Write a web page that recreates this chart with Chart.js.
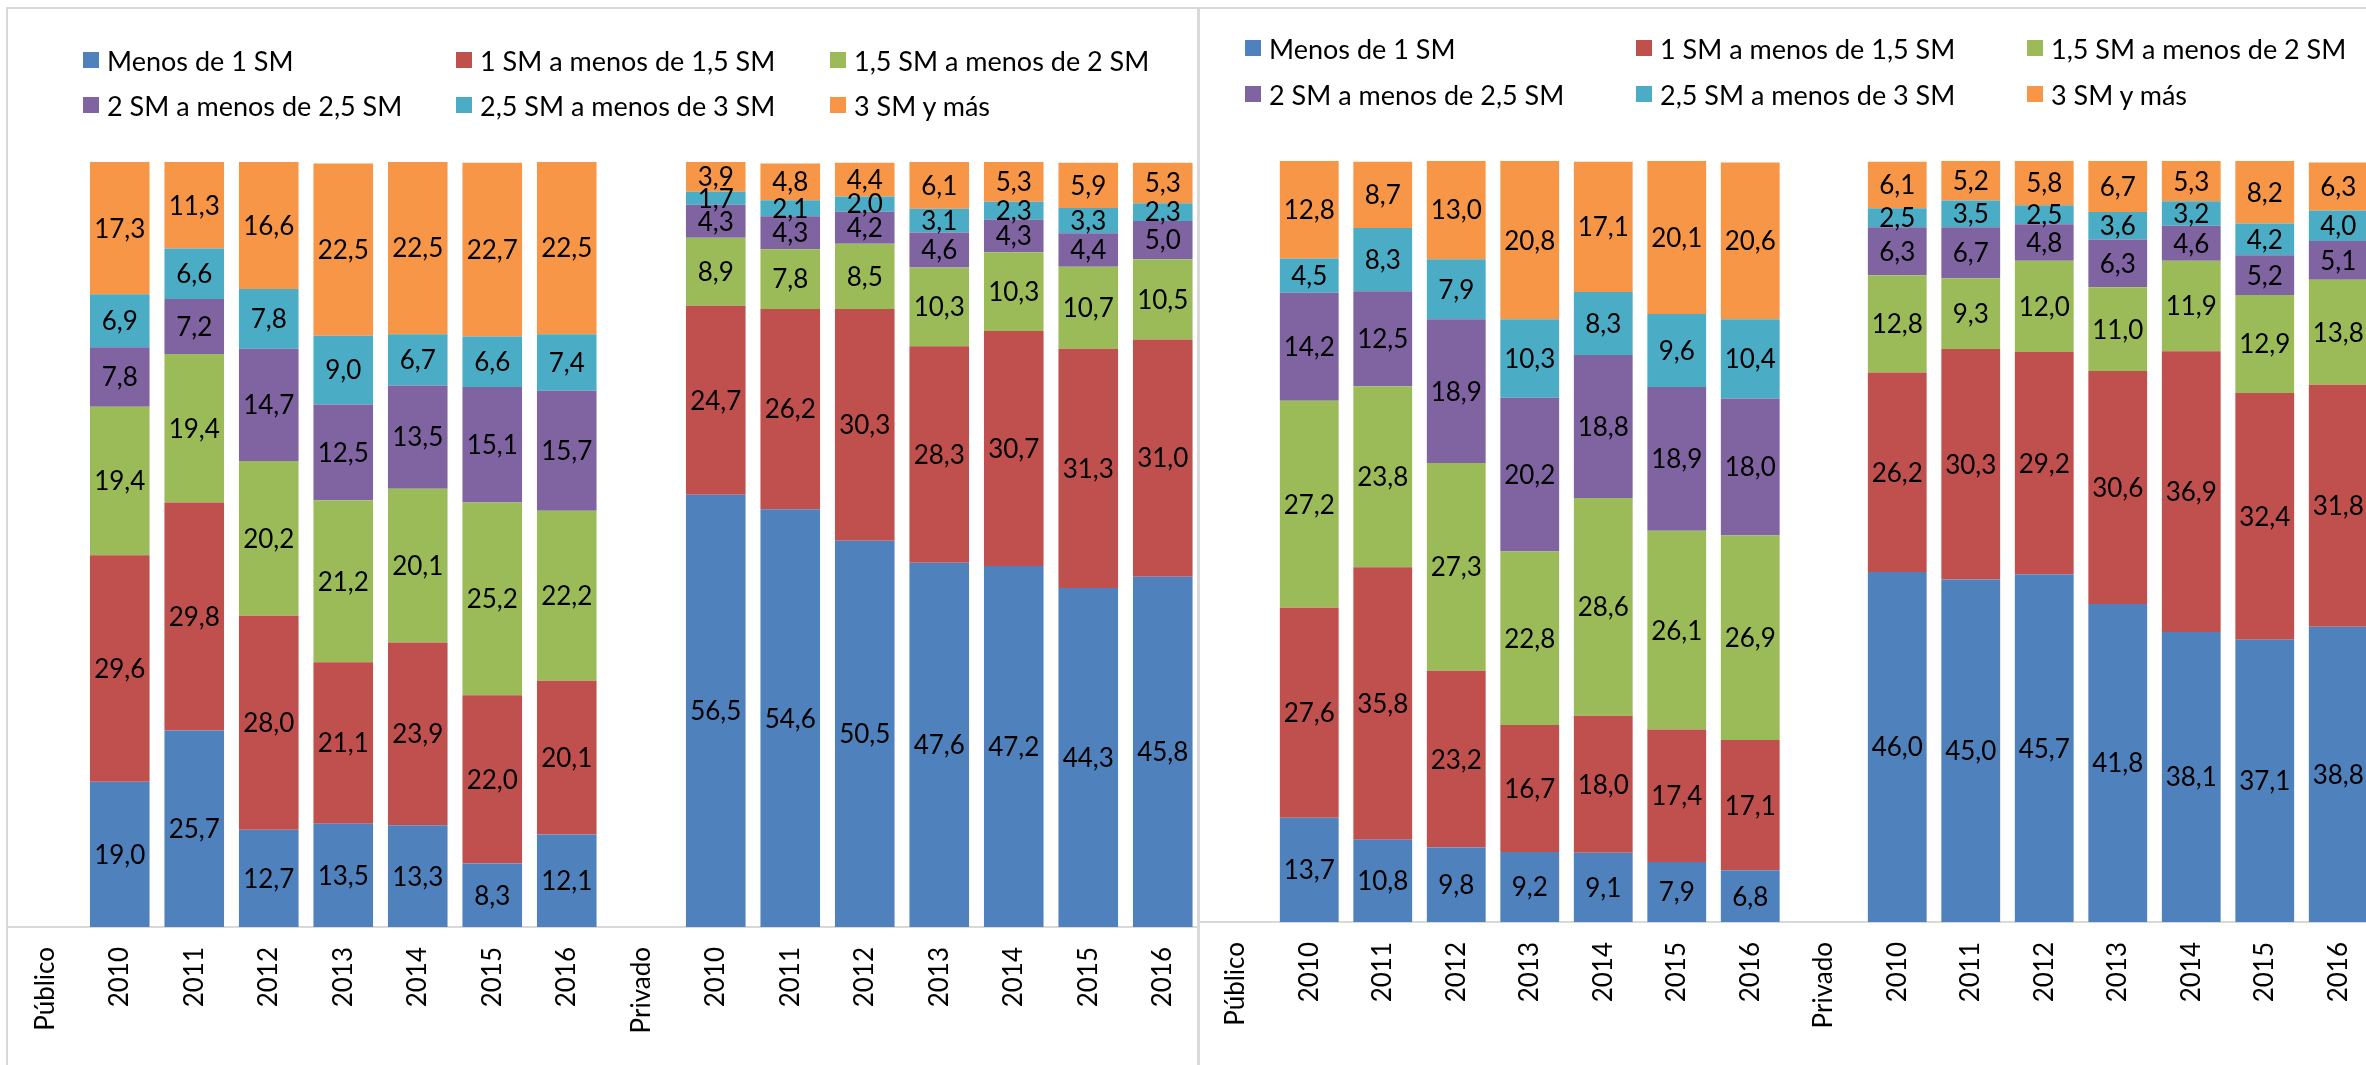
<!DOCTYPE html>
<html lang="es">
<head>
    <meta charset="UTF-8">
    <title>Distribución por tramos de SM</title>
    <script src="https://cdn.jsdelivr.net/npm/chart.js@4.4.1/dist/chart.umd.min.js"></script>
    <style>
        html, body {
            margin: 0;
            padding: 0;
            background: #fff;
            overflow: hidden;
        }
        #page {
            position: relative;
            width: 2366px;
            height: 1065px;
            overflow: hidden;
            font-family: 'Lato', sans-serif;
        }
        .panel {
            position: absolute;
            border: 2px solid #d9d9d9;
            box-sizing: border-box;
        }
        canvas {
            position: absolute;
            top: 0;
        }
        .legend-item {
            position: absolute;
            display: flex;
            align-items: center;
            font-size: 27px;
            color: #000;
            white-space: nowrap;
            height: 32px;
        }
        .legend-item span.box {
            display: inline-block;
            width: 16px;
            height: 16px;
            margin-right: 8px;
        }
    </style>
</head>
<body>
<div id="page">
    <div class="panel" style="left:6px; top:7px; width:1194px; height:1100px;"></div>
    <div class="panel" style="left:1197px; top:7px; width:1300px; height:1100px;"></div>
    <canvas id="chartA" width="1192" height="1065" style="left:8px;"></canvas>
    <canvas id="chartB" width="1176" height="1065" style="left:1199px;"></canvas>
    <div id="legendA"></div>
    <div id="legendB"></div>
</div>

<script>
    // categorias del eje
    var categories = ['Público', '2010', '2011', '2012', '2013', '2014', '2015', '2016',
                      'Privado', '2010', '2011', '2012', '2013', '2014', '2015', '2016'];

    var seriesNames = ['Menos de 1 SM', '1 SM a menos de 1,5 SM', '1,5 SM a menos de 2 SM',
                       '2 SM a menos de 2,5 SM', '2,5 SM a menos de 3 SM', '3 SM y más'];
    var seriesColors = ['#4F81BD', '#C0504D', '#9BBB59', '#8064A2', '#4BACC6', '#F79646'];

    // grafico izquierdo
    var leftMenos1  = [null, 19.0, 25.7, 12.7, 13.5, 13.3, 8.3, 12.1, null, 56.5, 54.6, 50.5, 47.6, 47.2, 44.3, 45.8];
    var left1a15    = [null, 29.6, 29.8, 28.0, 21.1, 23.9, 22.0, 20.1, null, 24.7, 26.2, 30.3, 28.3, 30.7, 31.3, 31.0];
    var left15a2    = [null, 19.4, 19.4, 20.2, 21.2, 20.1, 25.2, 22.2, null, 8.9, 7.8, 8.5, 10.3, 10.3, 10.7, 10.5];
    var left2a25    = [null, 7.8, 7.2, 14.7, 12.5, 13.5, 15.1, 15.7, null, 4.3, 4.3, 4.2, 4.6, 4.3, 4.4, 5.0];
    var left25a3    = [null, 6.9, 6.6, 7.8, 9.0, 6.7, 6.6, 7.4, null, 1.7, 2.1, 2.0, 3.1, 2.3, 3.3, 2.3];
    var left3mas    = [null, 17.3, 11.3, 16.6, 22.5, 22.5, 22.7, 22.5, null, 3.9, 4.8, 4.4, 6.1, 5.3, 5.9, 5.3];

    // grafico derecho
    var rightMenos1 = [null, 13.7, 10.8, 9.8, 9.2, 9.1, 7.9, 6.8, null, 46.0, 45.0, 45.7, 41.8, 38.1, 37.1, 38.8];
    var right1a15   = [null, 27.6, 35.8, 23.2, 16.7, 18.0, 17.4, 17.1, null, 26.2, 30.3, 29.2, 30.6, 36.9, 32.4, 31.8];
    var right15a2   = [null, 27.2, 23.8, 27.3, 22.8, 28.6, 26.1, 26.9, null, 12.8, 9.3, 12.0, 11.0, 11.9, 12.9, 13.8];
    var right2a25   = [null, 14.2, 12.5, 18.9, 20.2, 18.8, 18.9, 18.0, null, 6.3, 6.7, 4.8, 6.3, 4.6, 5.2, 5.1];
    var right25a3   = [null, 4.5, 8.3, 7.9, 10.3, 8.3, 9.6, 10.4, null, 2.5, 3.5, 2.5, 3.6, 3.2, 4.2, 4.0];
    var right3mas   = [null, 12.8, 8.7, 13.0, 20.8, 17.1, 20.1, 20.6, null, 6.1, 5.2, 5.8, 6.7, 5.3, 8.2, 6.3];

    var FONT = 'Lato';

    // etiquetas de valor centradas en cada segmento
    var valueLabels = {
        id: 'valueLabels',
        afterDatasetsDraw: function(chart) {
            var ctx = chart.ctx;
            ctx.save();
            ctx.font = '26px ' + FONT;
            ctx.fillStyle = '#000';
            ctx.textAlign = 'center';
            ctx.textBaseline = 'middle';
            chart.data.datasets.forEach(function(ds, i) {
                var meta = chart.getDatasetMeta(i);
                meta.data.forEach(function(bar, j) {
                    var v = ds.data[j];
                    if (v === null) return;
                    var txt = v.toFixed(1).replace('.', ',');
                    ctx.fillText(txt, bar.x, (bar.y + bar.base) / 2 + 1);
                });
            });
            ctx.restore();
        }
    };

    function makeChart(id, values, padTop, axisHeight) {
        var datasets = seriesNames.map(function(name, i) {
            return {
                label: name,
                data: values[i],
                backgroundColor: seriesColors[i],
                barPercentage: 0.8,
                categoryPercentage: 1.0
            };
        });
        return new Chart(document.getElementById(id), {
            type: 'bar',
            data: { labels: categories, datasets: datasets },
            options: {
                responsive: false,
                animation: false,
                layout: { padding: { top: padTop, left: 0, right: 0, bottom: 0 } },
                plugins: {
                    legend: { display: false },
                    tooltip: { enabled: false }
                },
                scales: {
                    x: {
                        stacked: true,
                        // marcas invisibles: dejan el hueco entre eje y etiquetas
                        grid: { display: true, drawOnChartArea: false, drawTicks: true, tickLength: 17, color: 'transparent' },
                        border: { display: true, color: '#d9d9d9', width: 2 },
                        ticks: {
                            autoSkip: false,
                            minRotation: 90,
                            maxRotation: 90,
                            padding: 3,
                            color: '#000',
                            font: { family: FONT, size: 26 }
                        },
                        afterFit: function(scale) { scale.height = axisHeight; }
                    },
                    y: {
                        stacked: true,
                        display: false,
                        min: 0,
                        max: 100
                    }
                }
            },
            plugins: [valueLabels]
        });
    }

    function makeLegend(id, xs, ys) {
        var box = document.getElementById(id);
        seriesNames.forEach(function(name, i) {
            var item = document.createElement('div');
            item.className = 'legend-item';
            item.style.left = xs[i % 3] + 'px';
            item.style.top = (ys[Math.floor(i / 3)] - 16) + 'px';
            var sw = document.createElement('span');
            sw.className = 'box';
            sw.style.background = seriesColors[i];
            item.appendChild(sw);
            item.appendChild(document.createTextNode(name));
            box.appendChild(item);
        });
    }

    makeChart('chartA', [leftMenos1, left1a15, left15a2, left2a25, left25a3, left3mas], 162, 138);
    makeChart('chartB', [rightMenos1, right1a15, right15a2, right2a25, right25a3, right3mas], 161, 143);

    makeLegend('legendA', [83, 456, 830], [60, 105]);
    makeLegend('legendB', [1245, 1636, 2027], [48, 94]);
</script>
</body>
</html>
